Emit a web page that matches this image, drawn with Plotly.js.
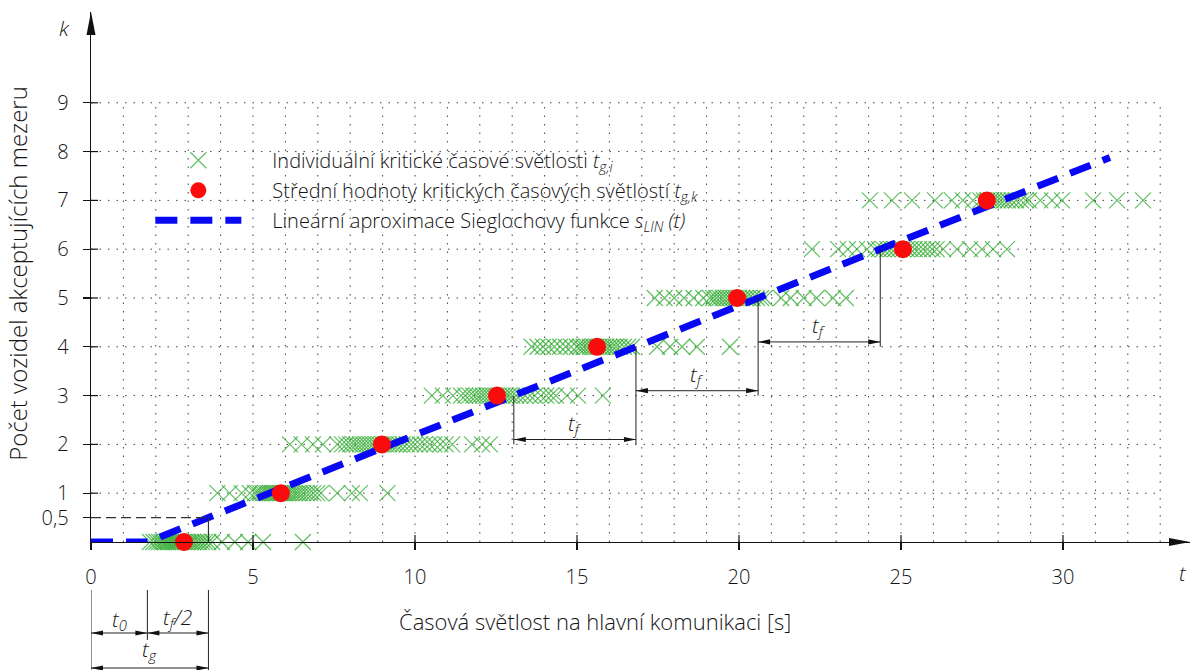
<!DOCTYPE html>
<html>
<head>
<meta charset="utf-8">
<script src="https://cdn.plot.ly/plotly-3.0.1.min.js"></script>
<style>
  html, body { margin: 0; padding: 0; background: #ffffff; }
  #chart { width: 1192px; height: 670px; }
</style>
</head>
<body>
<div id="chart"></div>
<script>
// Individual critical gaps t_g,i [s] for each number of accepted vehicles k
const gapsK0 = [1.82, 1.93, 2.02, 2.1, 2.18, 2.25, 2.32, 2.38, 2.45, 2.52, 2.58, 2.64, 2.7, 2.77, 2.84,
                2.92, 3.0, 3.08, 3.15, 3.24, 3.33, 3.42, 3.52, 3.62, 3.74, 4.04, 4.44, 4.85, 5.31, 6.54];
const gapsK1 = [3.9, 4.28, 4.65, 4.9, 5.06, 5.14, 5.22, 5.3, 5.38, 5.45, 5.52, 5.58, 5.64, 5.7, 5.76, 5.82,
                5.88, 5.94, 6.0, 6.07, 6.14, 6.22, 6.3, 6.38, 6.46, 6.55, 6.65, 6.75, 6.86, 6.98, 7.1,
                7.6, 8.05, 8.3, 9.15];
const gapsK2 = [6.14, 6.5, 6.85, 7.16, 7.6, 7.75, 7.88, 8.0, 8.1, 8.2, 8.3, 8.4, 8.5, 8.6, 8.7, 8.8, 8.9,
                9.0, 9.1, 9.2, 9.3, 9.4, 9.5, 9.62, 9.75, 9.88, 10.0, 10.15, 10.3, 10.45, 10.6, 10.78,
                10.95, 11.15, 11.76, 12.07, 12.31];
const gapsK3 = [10.52, 10.86, 11.17, 11.42, 11.55, 11.68, 11.8, 11.9, 12.0, 12.1, 12.2, 12.3, 12.4, 12.5,
                12.6, 12.7, 12.8, 12.9, 13.0, 13.12, 13.25, 13.4, 13.55, 13.7, 13.88, 14.05, 14.2, 14.35,
                14.69, 15.03, 15.8];
const gapsK4 = [13.6, 13.78, 13.95, 14.12, 14.3, 14.48, 14.65, 14.82, 15.0, 15.1, 15.2, 15.3, 15.4, 15.5,
                15.6, 15.7, 15.8, 15.9, 16.0, 16.1, 16.2, 16.32, 16.45, 16.58, 16.7, 17.47, 17.87, 18.24,
                18.7, 19.72];
const gapsK5 = [17.4, 17.7, 18.0, 18.3, 18.6, 18.9, 19.1, 19.2, 19.3, 19.4, 19.5, 19.6, 19.7, 19.8, 19.9,
                20.0, 20.1, 20.2, 20.3, 20.42, 20.55, 20.68, 20.8, 21.3, 21.6, 22.0, 22.4, 22.9, 23.3];
const gapsK6 = [22.25, 23.06, 23.36, 23.64, 23.95, 24.2, 24.32, 24.45, 24.58, 24.7, 24.82, 24.94, 25.06,
                25.18, 25.3, 25.42, 25.55, 25.68, 25.82, 25.96, 26.1, 26.3, 26.73, 27.13, 27.5, 27.84,
                28.27];
const gapsK7 = [24.04, 24.72, 25.34, 26.05, 26.57, 26.91, 27.22, 27.45, 27.56, 27.67, 27.78, 27.88, 27.98,
                28.08, 28.18, 28.3, 28.42, 28.55, 28.7, 28.85, 28.95, 29.3, 29.66, 29.97, 30.93, 31.67,
                32.47];
const gapLevels = [gapsK0, gapsK1, gapsK2, gapsK3, gapsK4, gapsK5, gapsK6, gapsK7];
const levelsK = [0, 1, 2, 3, 4, 5, 6, 7];

// Mean critical gaps t_g,k
const meanGapT = [2.87, 5.86, 8.98, 12.53, 15.62, 19.94, 25.06, 27.65];
const meanGapK = [0, 1, 2, 3, 4, 5, 6, 7];

// Linear approximation of the Siegloch function s_LIN(t)
const sLinT = [0, 1.74, 31.45];
const sLinK = [0, 0, 7.88];
const t0 = 1.74;      // zero gap t0 [s]
const tf = 3.77;      // follow-up time tf [s]
const tg = t0 + tf / 2;

// Axis ticks
const xTickVals = [0, 5, 10, 15, 20, 25, 30];
const xTickText = ['0', '5', '10', '15', '20', '25', '30'];
const yTickVals = [0.5, 1, 2, 3, 4, 5, 6, 7, 8, 9];
const yTickText = ['0,5', '1', '2', '3', '4', '5', '6', '7', '8', '9'];
const gridT = [];
for (let i = 1; i <= 33; i++) gridT.push(i);
const gridK = [1, 2, 3, 4, 5, 6, 7, 8, 9];

const FONT = 'Open Sans, Noto Sans, sans-serif';
const INK = '#141414';
const PAD = '\u00a0\u00a0\u00a0\u00a0\u00a0';

// flatten the per-level gaps into one scatter series
const gapT = [], gapK = [];
gapLevels.forEach((arr, i) => arr.forEach(v => { gapT.push(v); gapK.push(levelsK[i]); }));

const traces = [
  {
    type: 'scatter', mode: 'markers', x: gapT, y: gapK, cliponaxis: false,
    legendgroup: 'a', legendrank: 1,
    name: PAD + 'Individuální kritické časové světlosti <i>t</i><sub><i>g,i</i></sub>',
    marker: { symbol: 'x-thin-open', size: 16, color: 'rgba(45,170,45,0.75)', line: { width: 1.2, color: 'rgba(45,170,45,0.75)' } }
  },
  {
    type: 'scatter', mode: 'lines', x: sLinT, y: sLinK, cliponaxis: false,
    legendgroup: 'c', legendrank: 3,
    name: PAD + 'Lineární aproximace Sieglochovy funkce <i>s</i><sub><i>LIN</i></sub><i>\u00a0(t)</i>',
    line: { color: 'rgb(8,8,245)', width: 7, dash: '22px,13px' }
  },
  {
    type: 'scatter', mode: 'markers', x: meanGapT, y: meanGapK, cliponaxis: false,
    legendgroup: 'b', legendrank: 2,
    name: PAD + 'Střední hodnoty kritických časových světlostí <i>t</i><sub><i>g,k</i></sub>',
    marker: { symbol: 'circle', size: 18, color: 'rgb(250,12,12)' }
  }
];

const shapes = [];
// dotted grid
gridT.forEach(t => shapes.push({ type: 'line', xref: 'x', yref: 'y', x0: t, x1: t, y0: 0, y1: 9, layer: 'below',
  line: { color: '#444', width: 1, dash: '1.5px,7px' } }));
gridK.forEach(k => shapes.push({ type: 'line', xref: 'x', yref: 'y', x0: 0, x1: 33, y0: k, y1: k, layer: 'below',
  line: { color: '#444', width: 1, dash: '1.5px,7px' } }));

// inner halves of the tick marks
xTickVals.slice(1).forEach(t => shapes.push({ type: 'line', xref: 'x', yref: 'paper', ysizemode: 'pixel', yanchor: 0,
  x0: t, x1: t, y0: 0, y1: 7, line: { color: INK, width: 1.2 } }));
yTickVals.slice(1).forEach(k => shapes.push({ type: 'line', xref: 'paper', yref: 'y', xsizemode: 'pixel', xanchor: 0,
  x0: 0, x1: 7, y0: k, y1: k, line: { color: INK, width: 1.2 } }));

// arrowhead helper: tip at the anchor, dir = 'l','r','u'
function head(xref, yref, xa, ya, dir, dy, len, half) {
  dy = dy || 0; len = len || 12; half = half || 2.6;
  let p;
  if (dir === 'r') p = `M 0 ${dy} L ${-len} ${dy + half} L ${-len} ${dy - half} Z`;
  else if (dir === 'l') p = `M 0 ${dy} L ${len} ${dy + half} L ${len} ${dy - half} Z`;
  else p = `M 0 ${dy} L ${-half} ${dy - len} L ${half} ${dy - len} Z`;
  return { type: 'path', xref: xref, yref: yref, xsizemode: 'pixel', ysizemode: 'pixel',
    xanchor: xa, yanchor: ya, path: p, fillcolor: '#111', line: { width: 0 } };
}

// axis arrows
shapes.push(head('paper', 'paper', 1, 0, 'r', 0, 21, 4));
shapes.push(head('paper', 'paper', 0, 1, 'u', 0, 23, 4.5));

// k = 0.5 reference at t_g
shapes.push({ type: 'line', xref: 'x', yref: 'y', x0: 0, x1: tg, y0: 0.5, y1: 0.5, line: { color: '#333', width: 1.2, dash: '10px,5px' } });
shapes.push({ type: 'line', xref: 'x', yref: 'y', x0: tg, x1: tg, y0: 0.5, y1: 0, line: { color: '#333', width: 1.2 } });

// follow-up time dimensions between successive k levels
const dims = [3, 4, 5];
const tAt = k => t0 + k * tf;
[3, 4, 5, 6].forEach((k, i) => {
  const bottom = (i < 2 ? 2.1 : k - 2 + 0.1) - 0.1;
  shapes.push({ type: 'line', xref: 'x', yref: 'y', x0: tAt(k), x1: tAt(k), y0: k, y1: bottom, line: { color: '#222', width: 1 } });
});
dims.forEach(k => {
  const ya = k - 0.9;
  const xa = tAt(k), xb = tAt(k + 1);
  shapes.push({ type: 'line', xref: 'x', yref: 'y', x0: xa, x1: xb, y0: ya, y1: ya, line: { color: '#222', width: 1 } });
  shapes.push(head('x', 'y', xa, ya, 'l'));
  shapes.push(head('x', 'y', xb, ya, 'r'));
});

// t0, tf/2 and tg dimensions below the time axis
function vBelow(t, y1) {
  return { type: 'line', xref: 'x', yref: 'paper', ysizemode: 'pixel', yanchor: 0, x0: t, x1: t, y0: -48, y1: y1, line: { color: '#222', width: 1 } };
}
function hBelow(ta, tb, y) {
  return { type: 'line', xref: 'x', yref: 'paper', ysizemode: 'pixel', yanchor: 0, x0: ta, x1: tb, y0: y, y1: y, line: { color: '#222', width: 1 } };
}
shapes.push(vBelow(0, -128), vBelow(t0, -98), vBelow(tg, -128));
shapes.push(hBelow(0, t0, -91), hBelow(t0, tg, -91), hBelow(0, tg, -126));
shapes.push(head('x', 'paper', 0, 0, 'l', -91), head('x', 'paper', t0, 0, 'r', -91));
shapes.push(head('x', 'paper', t0, 0, 'l', -91), head('x', 'paper', tg, 0, 'r', -91));
shapes.push(head('x', 'paper', 0, 0, 'l', -126), head('x', 'paper', tg, 0, 'r', -126));

const txt = (size) => ({ family: FONT, size: size, color: INK, weight: 300 });
const note = (o) => Object.assign({ showarrow: false, xanchor: 'center', yanchor: 'middle' }, o);
const annotations = [
  note({ xref: 'paper', yref: 'paper', x: -0.0237, y: 0.97, text: '<i>k</i>', font: txt(21) }),
  note({ xref: 'paper', yref: 'paper', x: 0.9936, y: -0.0585, text: '<i>t</i>', font: txt(21) }),
  note({ xref: 'paper', yref: 'paper', x: -0.0664, y: 0.506, textangle: -90,
    text: 'Počet vozidel akceptujících mezeru', font: txt(24) }),
  note({ xref: 'paper', yref: 'paper', x: 0.4586, y: -0.149,
    text: 'Časová světlost na hlavní komunikaci [s]', font: txt(22) }),
  note({ xref: 'x', yref: 'paper', x: t0 / 2, y: 0, yshift: -78, text: '<i>t</i><sub><i>0</i></sub>', font: txt(21) }),
  note({ xref: 'x', yref: 'paper', x: t0 + tf / 4, y: 0, yshift: -76, text: '<i>t</i><sub><i>f</i></sub><i>/2</i>', font: txt(21) }),
  note({ xref: 'x', yref: 'paper', x: tg / 2, y: 0, yshift: -108, text: '<i>t</i><sub><i>g</i></sub>', font: txt(21) })
];
dims.forEach(k => annotations.push(note({ xref: 'x', yref: 'y', x: (tAt(k) + tAt(k + 1)) / 2, y: k - 0.9, yshift: 16,
  text: '<i>t</i><sub><i>f</i></sub>', font: txt(21) })));

const layout = {
  width: 1192, height: 670,
  margin: { l: 91, r: 2, t: 12, b: 128, pad: 0 },
  paper_bgcolor: '#ffffff', plot_bgcolor: '#ffffff',
  font: txt(19),
  showlegend: true,
  legend: {
    x: 0.054, y: 0.757, xanchor: 'left', yanchor: 'top',
    bgcolor: 'rgba(0,0,0,0)', borderwidth: 0,
    itemwidth: 86, traceorder: 'grouped', tracegroupgap: 1,
    font: txt(20)
  },
  xaxis: {
    range: [0, 33.92], showgrid: false, zeroline: false,
    showline: true, linecolor: INK, linewidth: 1.3,
    ticks: 'outside', ticklen: 7, tickwidth: 1.2, tickcolor: INK,
    tickvals: xTickVals, ticktext: xTickText, ticklabelstandoff: 10,
    tickfont: txt(20)
  },
  yaxis: {
    range: [0, 10.86], showgrid: false, zeroline: false,
    showline: true, linecolor: INK, linewidth: 1.3,
    ticks: 'outside', ticklen: 7, tickwidth: 1.2, tickcolor: INK,
    tickvals: yTickVals, ticktext: yTickText, ticklabelstandoff: 10,
    tickfont: txt(20)
  },
  shapes: shapes,
  annotations: annotations
};

Plotly.newPlot('chart', traces, layout, { staticPlot: true, displayModeBar: false });
</script>
</body>
</html>
